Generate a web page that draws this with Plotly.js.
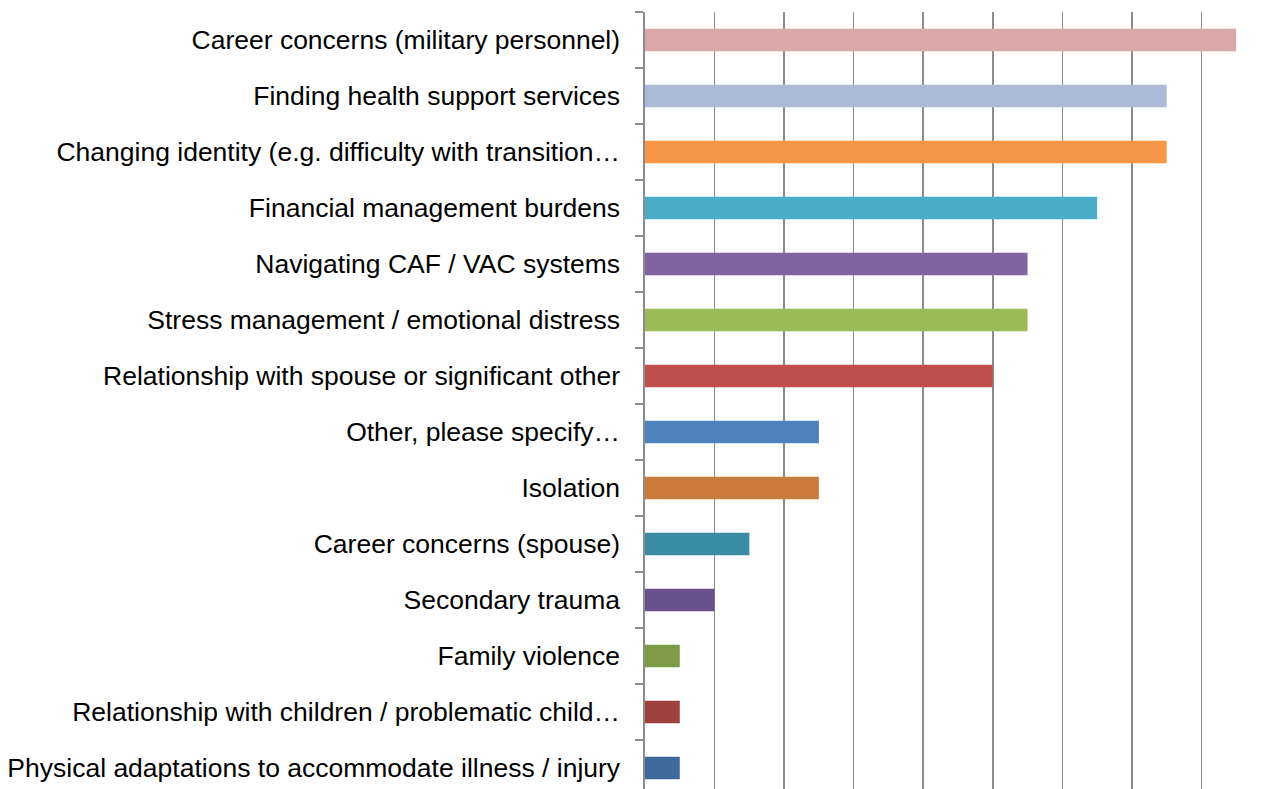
<!DOCTYPE html>
<html>
<head>
<meta charset="utf-8">
<script src="https://cdn.plot.ly/plotly-3.0.1.min.js"></script>
<style>
html,body{margin:0;padding:0;overflow:hidden;background:#fff;}
#chart{width:1272px;height:797px;}
</style>
</head>
<body>
<div id="chart"></div>
<script>
const categories = [
  "Career concerns (military personnel)",
  "Finding health support services",
  "Changing identity (e.g. difficulty with transition…",
  "Financial management burdens",
  "Navigating CAF / VAC systems",
  "Stress management / emotional distress",
  "Relationship with spouse or significant other",
  "Other, please specify…",
  "Isolation",
  "Career concerns (spouse)",
  "Secondary trauma",
  "Family violence",
  "Relationship with children / problematic child…",
  "Physical adaptations to accommodate illness / injury"
];
const values = [8.5, 7.5, 7.5, 6.5, 5.5, 5.5, 5.0, 2.5, 2.5, 1.5, 1.0, 0.5, 0.5, 0.5];
const barColors = [
  "#D9A8A8", "#AABAD7", "#F79646", "#4BACC6", "#8064A2", "#9BBB59", "#C0504D",
  "#4F81BD", "#CB7B39", "#3A8CA3", "#68518A", "#809B48", "#9E413E", "#3F6A9C"
];

Plotly.newPlot('chart', [{
  type: 'bar',
  orientation: 'h',
  y: categories,
  x: values,
  marker: {color: barColors, line: {width: 0}},
  hoverinfo: 'none'
}], {
  width: 1272,
  height: 797,
  margin: {l: 645, r: 1, t: 12, b: 1, pad: 0},
  paper_bgcolor: '#ffffff',
  plot_bgcolor: '#ffffff',
  bargap: 0.6,
  showlegend: false,
  font: {family: 'Liberation Sans, Arial, sans-serif', size: 26.5, color: '#000000'},
  xaxis: {
    range: [0, 9],
    dtick: 1,
    showgrid: true,
    gridcolor: '#8c8c8c',
    gridwidth: 1.6,
    zeroline: false,
    showticklabels: false,
    ticks: '',
    showline: false
  },
  yaxis: {
    type: 'category',
    autorange: 'reversed',
    showline: true,
    linecolor: '#8c8c8c',
    linewidth: 1.6,
    ticks: 'outside',
    tickson: 'boundaries',
    ticklen: 8,
    tickwidth: 1.6,
    tickcolor: '#8c8c8c',
    showgrid: false,
    zeroline: false,
    ticklabelstandoff: 18,
    tickfont: {family: 'Liberation Sans, Arial, sans-serif', size: 26.5, color: '#000000'}
  }
}, {displayModeBar: false, staticPlot: true});
</script>
</body>
</html>
